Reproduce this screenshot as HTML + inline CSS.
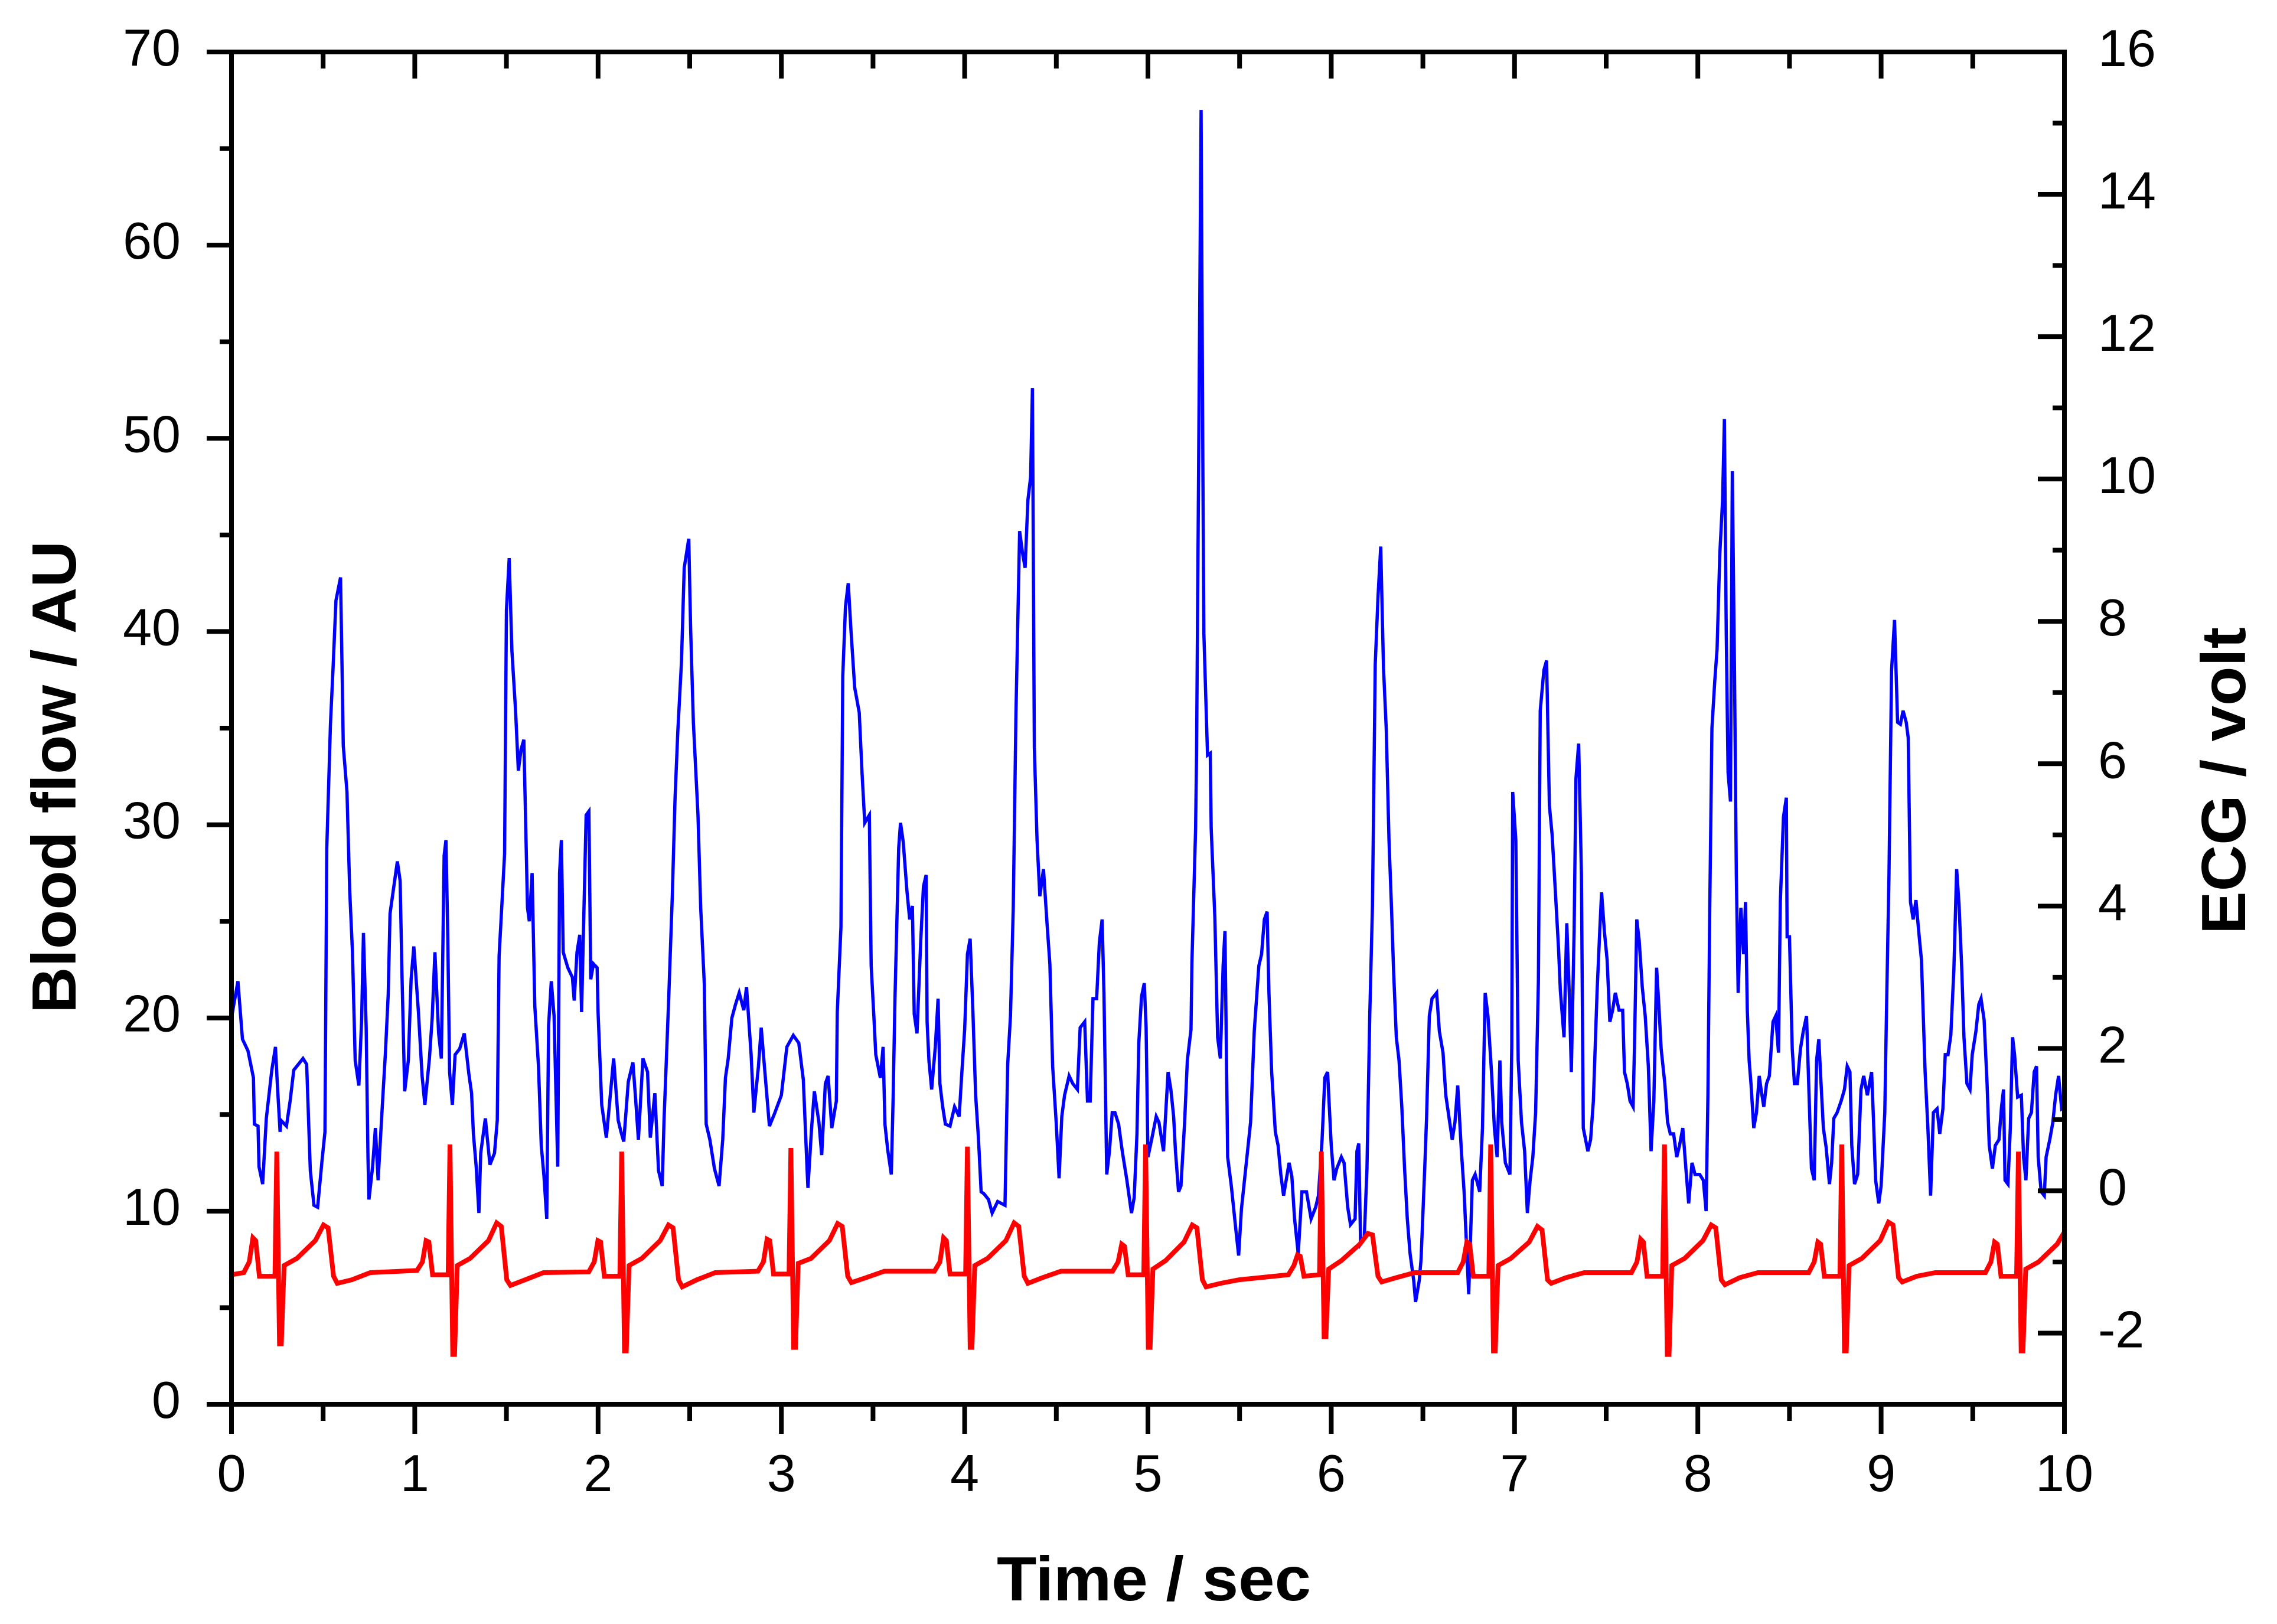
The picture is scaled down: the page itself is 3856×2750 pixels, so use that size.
<!DOCTYPE html>
<html><head><meta charset="utf-8"><title>Blood flow and ECG</title>
<style>
html,body{margin:0;padding:0;background:#fff;}
svg{display:block;}
text{font-family:"Liberation Sans",Arial,sans-serif;fill:#000;}
</style></head>
<body>
<svg id="chart" width="3856" height="2750" viewBox="0 0 3856 2750" xmlns="http://www.w3.org/2000/svg">
<rect x="0" y="0" width="3856" height="2750" fill="#fff"/>
<g id="series"></g>
<g id="axes"></g>
<text transform="translate(128,1316) rotate(-90)" text-anchor="middle" font-size="106" font-weight="bold" textLength="800" lengthAdjust="spacingAndGlyphs">Blood flow / AU</text>
<text transform="translate(3802,1322) rotate(-90)" text-anchor="middle" font-size="106" font-weight="bold" textLength="520" lengthAdjust="spacingAndGlyphs">ECG / volt</text>
<text x="1954" y="2710" text-anchor="middle" font-size="106" font-weight="bold" textLength="532" lengthAdjust="spacingAndGlyphs">Time / sec</text>
</svg>
<script>
const xTicks=[0,1,2,3,4,5,6,7,8,9,10];
const yLeftTicks=[0,10,20,30,40,50,60,70];
const yRightTicks=[-2,0,2,4,6,8,10,12,14,16];

const bfTime=[0,0.035,0.06,0.09,0.12,0.125,0.145,0.15,0.17,0.19,0.22,0.24,0.25,0.265,0.27,0.3,0.32,0.34,0.39,0.41,0.43,0.45,0.47,0.495,0.51,0.52,0.54,0.555,0.57,0.595,0.605,0.61,0.63,0.645,0.66,0.675,0.695,0.71,0.72,0.735,0.745,0.75,0.77,0.785,0.8,0.825,0.84,0.855,0.865,0.89,0.905,0.92,0.93,0.945,0.965,0.98,0.995,1.02,1.04,1.055,1.08,1.095,1.11,1.13,1.145,1.16,1.17,1.18,1.19,1.205,1.22,1.245,1.27,1.295,1.31,1.32,1.335,1.35,1.36,1.385,1.41,1.435,1.45,1.46,1.475,1.49,1.5,1.515,1.53,1.55,1.565,1.58,1.595,1.615,1.625,1.64,1.655,1.675,1.69,1.705,1.72,1.73,1.745,1.76,1.78,1.79,1.8,1.81,1.835,1.86,1.87,1.885,1.9,1.91,1.935,1.95,1.96,1.975,1.995,2.0,2.02,2.045,2.06,2.085,2.11,2.125,2.14,2.165,2.19,2.205,2.22,2.245,2.27,2.285,2.31,2.33,2.35,2.36,2.385,2.405,2.42,2.435,2.455,2.47,2.495,2.505,2.52,2.545,2.56,
2.58,2.59,2.61,2.635,2.66,2.68,2.695,2.71,2.73,2.75,2.77,2.795,2.81,2.835,2.85,2.875,2.89,2.91,2.935,2.965,3.0,3.03,3.065,3.095,3.12,3.14,3.145,3.165,3.18,3.205,3.22,3.24,3.255,3.275,3.3,3.305,3.325,3.335,3.35,3.365,3.38,3.4,3.425,3.44,3.455,3.48,3.49,3.505,3.515,3.54,3.555,3.565,3.58,3.6,3.61,3.62,3.64,3.65,3.665,3.685,3.7,3.715,3.725,3.74,3.76,3.775,3.79,3.795,3.805,3.82,3.84,3.855,3.865,3.88,3.895,3.92,3.945,3.97,3.985,4.0,4.015,4.03,4.045,4.06,4.075,4.09,4.105,4.13,4.15,4.18,4.22,4.235,4.25,4.265,4.28,4.3,4.315,4.33,4.345,4.36,4.37,4.38,4.395,4.41,4.43,4.45,4.465,4.48,4.5,4.515,4.53,4.545,4.57,4.59,4.615,4.63,4.655,4.67,4.685,4.7,4.72,4.735,4.75,4.76,4.775,4.79,4.805,4.82,4.84,4.86,4.885,4.91,4.925,4.94,4.95,4.965,4.98,4.99,5.0,5.02,5.045,
5.06,5.085,5.11,5.125,5.14,5.15,5.167,5.18,5.2,5.215,5.235,5.24,5.26,5.265,5.275,5.29,5.3,5.305,5.325,5.34,5.345,5.365,5.38,5.395,5.41,5.42,5.435,5.455,5.48,5.495,5.51,5.54,5.56,5.58,5.605,5.62,5.635,5.65,5.66,5.675,5.695,5.71,5.725,5.74,5.77,5.785,5.8,5.82,5.84,5.865,5.89,5.915,5.93,5.95,5.965,5.98,6.0,6.015,6.03,6.055,6.07,6.09,6.105,6.13,6.14,6.15,6.16,6.18,6.195,6.21,6.225,6.24,6.255,6.27,6.285,6.3,6.315,6.33,6.34,6.355,6.37,6.385,6.4,6.415,6.43,6.45,6.46,6.48,6.49,6.51,6.52,6.535,6.55,6.575,6.59,6.61,6.625,6.64,6.66,6.675,6.69,6.71,6.725,6.74,6.75,6.77,6.785,6.81,6.825,6.84,6.855,6.875,6.89,6.905,6.92,6.93,6.95,6.975,6.985,6.99,7.007,7.02,7.038,7.055,7.07,7.085,7.1,7.115,7.13,7.14,7.16,7.175,7.19,7.205,7.22,7.24,7.25,7.27,7.285,7.3,7.31,7.325,7.335,7.35,7.365,7.375,7.4,7.415,7.43,7.45,7.465,7.475,7.49,7.505,7.52,7.535,7.55,7.57,
7.59,7.6,7.615,7.63,7.647,7.655,7.667,7.68,7.697,7.713,7.73,7.745,7.76,7.775,7.787,7.8,7.82,7.835,7.85,7.868,7.885,7.9,7.918,7.935,7.95,7.968,7.985,8.01,8.03,8.045,8.055,8.065,8.077,8.092,8.105,8.12,8.135,8.145,8.155,8.165,8.178,8.188,8.2,8.21,8.22,8.235,8.25,8.26,8.27,8.28,8.29,8.305,8.32,8.335,8.345,8.36,8.375,8.39,8.41,8.425,8.44,8.45,8.467,8.483,8.487,8.5,8.515,8.527,8.543,8.56,8.575,8.593,8.61,8.62,8.635,8.648,8.66,8.67,8.685,8.7,8.718,8.73,8.742,8.76,8.782,8.8,8.815,8.83,8.84,8.855,8.872,8.89,8.905,8.925,8.948,8.958,8.97,8.987,9.0,9.02,9.03,9.043,9.057,9.073,9.09,9.105,9.12,9.137,9.148,9.16,9.175,9.19,9.205,9.22,9.24,9.255,9.27,9.285,9.305,9.32,9.337,9.35,9.365,9.38,9.397,9.412,9.425,9.44,9.452,9.468,9.485,9.497,9.517,9.533,9.545,9.562,9.578,9.59,9.607,9.623,9.643,9.657,9.668,9.676,9.692,9.705,9.717,9.728,9.745,9.765,9.777,9.79,9.805,9.82,9.835,9.848,9.857,9.873,9.89,9.9,9.92,9.937,9.952,9.968,9.985,10.0];

const bfValue=[20,21.9,18.9,18.3,16.9,14.5,14.4,12.3,11.4,14.8,17.3,18.5,16.6,14.1,14.7,14.4,15.7,17.3,17.9,17.6,12.1,10.3,10.2,12.7,14.1,28.8,35.2,38.3,41.6,42.8,37.1,34.1,31.7,26.6,23.4,17.8,16.5,19.9,24.4,19.5,12.7,10.6,12.3,14.3,11.6,15.8,18.2,21.2,25.4,27.1,28.1,27.1,22.3,16.2,17.8,22.0,23.7,20.3,17.0,15.5,17.9,20.0,23.4,19.2,17.9,28.4,29.2,24.2,17.2,15.5,18.1,18.4,19.2,17.1,16.1,14.0,12.3,9.9,13.0,14.8,12.4,13.0,14.7,23.2,25.8,28.5,41.1,43.8,39.0,35.9,32.8,33.9,34.4,25.7,25.0,27.5,20.6,17.5,13.4,11.8,9.6,19.6,21.9,20.1,12.3,27.5,29.2,23.4,22.6,22.1,20.9,23.4,24.3,20.3,30.5,30.7,22.0,22.8,22.6,20.3,15.5,13.8,15.3,17.9,14.7,14.1,13.6,16.7,17.7,15.8,13.7,17.9,17.2,13.8,16.1,12.1,11.3,14.7,20.9,26.3,31.4,34.8,38.4,43.3,44.8,40.1,35.3,30.5,25.7,
21.7,14.5,13.7,12.2,11.3,13.7,16.9,17.9,20.0,20.7,21.3,20.4,21.6,18.1,15.1,17.5,19.5,17.2,14.4,15.1,16.0,18.5,19.1,18.7,16.8,12.2,11.2,14.3,16.2,14.6,12.9,16.6,17.0,14.3,15.7,20.3,24.7,37.7,41.3,42.5,40.0,37.1,35.8,32.7,30.1,30.5,22.7,20.0,18.1,16.9,18.5,14.5,13.2,11.9,15.9,21.0,28.8,30.1,29.1,26.6,25.1,25.8,20.2,19.2,23.9,26.8,27.4,19.8,17.8,16.3,18.5,21.0,16.6,15.4,14.5,14.4,15.4,14.9,17.2,19.4,23.3,24.1,20.3,16.0,13.8,11.0,10.9,10.6,9.9,10.5,10.3,17.6,20.1,25.7,35.8,45.2,44.1,43.3,46.8,48,52.6,34,29.2,26.3,27.7,24.8,22.8,17.5,14.5,11.7,14.9,16.0,17.0,16.6,16.3,19.5,19.8,15.7,15.7,21.0,21.0,23.9,25.1,21.3,11.9,13.1,15.1,15.1,14.5,13.1,11.6,9.9,10.7,14.0,18.7,21.1,21.8,19.5,12.8,13.7,14.9,
14.6,13.1,17.2,16.3,14.9,13.1,11.0,11.3,14.6,17.8,19.4,22.9,29.8,33.6,46.8,67,48,39.9,33.6,33.7,29.8,25.2,19.0,17.9,22.7,24.5,12.8,11.3,9.0,7.7,10.1,12.8,14.6,19.3,22.7,23.3,25.1,25.5,21.3,17.2,14.1,13.4,11.9,10.8,12.5,11.8,9.6,7.8,11.0,11.0,9.6,10.2,10.8,13.7,16.9,17.2,13.4,11.6,12.2,12.8,12.5,10.2,9.3,9.6,13.1,13.5,8.3,8.6,12.2,20.1,25.8,38.3,41.8,44.4,38.1,35.0,29.2,25.4,22.5,19.0,17.8,15.4,12.2,9.6,7.8,6.4,5.3,6.4,7.5,12.2,14.8,20.1,21.0,21.3,19.3,18.2,16.0,15.0,13.7,14.6,16.5,13.1,11.0,7.8,5.7,11.6,11.9,11.0,14.3,21.3,20.1,17.1,14.3,12.8,17.8,14.6,12.5,11.9,18.5,31.7,29.2,17.8,14.6,13.1,9.9,11.6,12.8,15.1,21.9,35.9,38.0,38.5,31.0,29.5,27.0,23.6,21.4,19.0,24.9,20.9,17.2,24.5,32.4,34.2,27.4,14.3,13.1,13.7,15.7,21.3,24.5,26.5,24.5,23.0,19.8,20.4,21.3,20.4,
20.4,17.2,16.6,15.7,15.4,18.8,25.1,24.0,21.6,20.1,17.5,13.1,15.7,22.6,20.7,18.4,16.6,14.6,14.0,14.0,12.8,13.4,14.3,12.2,10.4,12.5,11.9,11.9,11.6,10.0,16.0,25.7,35.0,37.4,39.1,44.0,46.8,51,40.0,32.7,31.2,48.3,38.0,27.4,21.3,25.7,23.3,26.0,20.4,17.8,16.6,14.3,15.1,17.0,16.3,15.4,16.6,17.0,19.8,20.1,18.2,26.0,30.4,31.4,24.2,24.2,18.4,16.6,16.6,18.4,19.3,20.1,15.1,12.2,11.6,17.8,18.9,17.0,14.3,13.3,11.4,12.5,14.8,15.1,15.7,16.3,17.5,17.2,13.4,11.4,11.9,16.3,17.0,16.0,17.2,14.8,11.6,10.4,11.3,15.1,20.7,27.4,38.0,40.6,35.3,35.2,35.9,35.3,34.5,26.0,25.1,26.1,24.5,23.0,17.2,14.3,10.8,15.1,15.3,14.0,15.3,18.1,18.1,19.1,22.5,27.7,25.9,22.5,19.0,16.6,16.3,18.1,19.3,20.7,21.0,19.9,16.6,13.4,12.2,13.4,13.7,15.4,16.3,11.6,11.4,14.3,19.0,18.1,15.9,16.0,12.8,11.6,14.8,15.1,17.2,17.5,12.8,11.0,10.8,12.8,13.7,14.6,16.0,17.0,15.3,15.4];

const ecgTime=[0,
0.067,0.097,0.117,0.132,0.152,0.237,0.247,0.262,0.272,0.287,0.357,0.457,0.502,0.527,0.557,0.577,0.657,0.757,
1.012,1.042,1.062,1.077,1.097,1.182,1.192,1.207,1.217,1.232,1.302,1.402,1.447,1.472,1.502,1.522,1.602,1.702,
1.949,1.979,1.999,2.014,2.034,2.119,2.129,2.144,2.154,2.169,2.239,2.339,2.384,2.409,2.439,2.459,2.539,2.639,
2.872,2.902,2.922,2.937,2.957,3.042,3.052,3.067,3.077,3.092,3.162,3.262,3.307,3.332,3.362,3.382,3.462,3.562,
3.835,3.865,3.885,3.9,3.92,4.005,4.015,4.03,4.04,4.055,4.125,4.225,4.27,4.295,4.325,4.345,4.425,4.525,
4.807,4.837,4.857,4.872,4.892,4.977,4.987,5.002,5.012,5.027,5.097,5.197,5.242,5.267,5.297,5.317,5.397,5.497,
5.766,5.796,5.816,5.831,5.851,5.936,5.946,5.961,5.971,5.986,6.056,6.156,6.2,6.225,6.255,6.275,6.355,6.455,
6.69,6.72,6.74,6.755,6.775,6.86,6.87,6.885,6.895,6.91,6.98,7.08,7.125,7.15,7.18,7.2,7.28,7.38,
7.638,7.668,7.688,7.703,7.723,7.808,7.818,7.833,7.843,7.858,7.928,8.028,8.073,8.098,8.128,8.148,8.228,8.328,
8.605,8.635,8.655,8.67,8.69,8.775,8.785,8.8,8.81,8.825,8.895,8.995,9.04,9.065,9.095,9.115,9.195,9.295,
9.569,9.599,9.619,9.634,9.654,9.739,9.749,9.764,9.774,9.789,9.859,9.96,10.0];

const ecgVolt=[-1.18,
-1.15,-1.0,-0.66,-0.7,-1.2,-1.2,0.55,-2.15,-2.15,-1.05,-0.95,-0.7,-0.48,-0.52,-1.2,-1.3,-1.25,-1.15,
-1.12,-1.0,-0.7,-0.72,-1.18,-1.18,0.65,-2.3,-2.3,-1.05,-0.95,-0.7,-0.45,-0.5,-1.25,-1.33,-1.25,-1.15,
-1.14,-1.0,-0.7,-0.72,-1.2,-1.2,0.55,-2.25,-2.25,-1.05,-0.95,-0.7,-0.48,-0.52,-1.25,-1.35,-1.25,-1.15,
-1.13,-1.0,-0.68,-0.7,-1.17,-1.17,0.6,-2.2,-2.2,-1.02,-0.95,-0.7,-0.46,-0.5,-1.2,-1.29,-1.22,-1.13,
-1.13,-1.0,-0.66,-0.7,-1.17,-1.17,0.62,-2.2,-2.2,-1.05,-0.95,-0.7,-0.45,-0.5,-1.2,-1.3,-1.22,-1.13,
-1.13,-1.0,-0.75,-0.78,-1.18,-1.18,0.65,-2.2,-2.2,-1.1,-0.98,-0.72,-0.48,-0.52,-1.25,-1.35,-1.3,-1.25,
-1.18,-1.05,-0.9,-0.92,-1.2,-1.18,0.55,-2.05,-2.05,-1.1,-0.98,-0.75,-0.6,-0.62,-1.2,-1.28,-1.22,-1.15,
-1.15,-1.0,-0.72,-0.75,-1.2,-1.2,0.65,-2.25,-2.25,-1.05,-0.95,-0.72,-0.5,-0.55,-1.25,-1.3,-1.22,-1.15,
-1.15,-1.0,-0.68,-0.72,-1.2,-1.2,0.65,-2.3,-2.3,-1.05,-0.95,-0.7,-0.48,-0.52,-1.25,-1.32,-1.22,-1.15,
-1.15,-1.0,-0.72,-0.75,-1.2,-1.2,0.65,-2.25,-2.25,-1.05,-0.95,-0.7,-0.44,-0.48,-1.22,-1.28,-1.2,-1.15,
-1.15,-1.0,-0.72,-0.75,-1.2,-1.2,0.55,-2.25,-2.25,-1.1,-1.0,-0.75,-0.58];

const NS='http://www.w3.org/2000/svg';
const L=392,R=3496,T=88,B=2378;
const xMin=0,xMax=10,yLMin=0,yLMax=70,yRMin=-3,yRMax=16;
function xs(t){return L+(t-xMin)/(xMax-xMin)*(R-L);}
function yl(v){return B-(v-yLMin)/(yLMax-yLMin)*(B-T);}
function yr(v){return B-(v-yRMin)/(yRMax-yRMin)*(B-T);}

const series=document.getElementById('series');
const axes=document.getElementById('axes');

function mk(tag,attrs,parent){const e=document.createElementNS(NS,tag);for(const k in attrs)e.setAttribute(k,attrs[k]);parent.appendChild(e);return e;}

let d='';
for(let i=0;i<bfTime.length;i++){d+=(i?'L':'M')+xs(bfTime[i]).toFixed(1)+' '+yl(bfValue[i]).toFixed(1);}
const bf=mk('path',{d:d,fill:'none',stroke:'#0000ff','stroke-width':5.5,'stroke-linejoin':'miter'},series);



let d2='';
for(let i=0;i<ecgTime.length;i++){d2+=(i?'L':'M')+xs(ecgTime[i]).toFixed(1)+' '+yr(ecgVolt[i]).toFixed(1);}
const ecg=mk('path',{d:d2,fill:'none',stroke:'#ff0000','stroke-width':8,'stroke-linejoin':'miter'},series);



const frame=mk('rect',{x:L,y:T,width:R-L,height:B-T,fill:'none',stroke:'#000','stroke-width':8},axes);



function line(x1,y1,x2,y2,name){const e=mk('line',{x1:x1,y1:y1,x2:x2,y2:y2,stroke:'#000','stroke-width':8},axes);


return e;}
function label(x,y,s,anchor,name){const e=mk('text',{x:x,y:y,'text-anchor':anchor,'font-size':88},axes);e.textContent=s;


return e;}

for(let k=0;k<=20;k++){const t=k*0.5;const x=xs(t);const major=(k%2===0);
 line(x,B,x,B+(major?50:28),'x-tick');
 line(x,T,x,T+(major?45:28),'x-top-tick');}
xTicks.forEach(t=>label(xs(t),2525,String(t),'middle','x-tick-label'));

for(let v=0;v<=70;v+=5){const y=yl(v);const major=(v%10===0);line(L,y,L-(major?42:20),y,'y-left-tick');}
yLeftTicks.forEach(v=>label(306,yl(v)+23,String(v),'end','y-left-tick-label'));

for(let v=-3;v<=16;v+=1){const y=yr(v);const major=(v%2===0);line(R,y,R-(major?45:20),y,'y-right-tick');}
yRightTicks.forEach(v=>label(3553,yr(v)+24,String(v),'start','y-right-tick-label'));
</script>
</body></html>
